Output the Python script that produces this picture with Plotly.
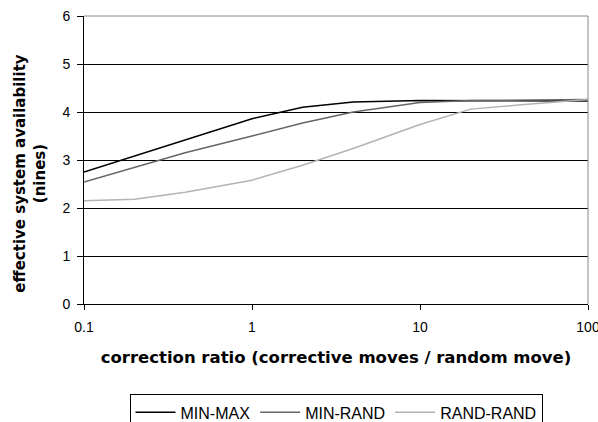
import plotly.graph_objects as go

# correction ratio (corrective moves per random move)
ratio = [0.1, 0.2, 0.4, 1, 2, 4, 10, 20, 40, 100]

# effective system availability, in nines
min_max = [2.75, 3.08, 3.42, 3.86, 4.10, 4.21, 4.24, 4.24, 4.24, 4.23]
min_rand = [2.54, 2.85, 3.15, 3.50, 3.77, 4.00, 4.20, 4.24, 4.25, 4.26]
rand_rand = [2.15, 2.18, 2.33, 2.58, 2.89, 3.24, 3.74, 4.06, 4.15, 4.26]

series = [
    ("MIN-MAX", min_max, "#000000"),
    ("MIN-RAND", min_rand, "#666666"),
    ("RAND-RAND", rand_rand, "#b3b3b3"),
]

x_ticks = [0.1, 1, 10, 100]
x_tick_text = ["0.1", "1", "10", "100"]

fig = go.Figure()
for name, vals, color in series:
    fig.add_trace(go.Scatter(
        x=ratio, y=vals, mode="lines", name=name,
        line=dict(color=color, width=1.5),
    ))

tick_font = dict(family="Arial, Liberation Sans, sans-serif", size=14, color="#000000")
legend_font = dict(family="Arial, Liberation Sans, sans-serif", size=16, color="#000000")

fig.update_layout(
    width=598, height=422,
    margin=dict(l=84, r=10, t=16, b=118, autoexpand=False),
    paper_bgcolor="white", plot_bgcolor="white",
    font=tick_font,
    showlegend=True,
    legend=dict(
        orientation="h", x=0.5, xanchor="center", y=-0.314, yanchor="top",
        bordercolor="#000000", borderwidth=1, bgcolor="white",
        font=legend_font, tracegroupgap=0, itemwidth=40,
    ),
    xaxis=dict(
        type="log", range=[-1, 2],
        tickvals=x_ticks, ticktext=x_tick_text,
        ticks="outside", ticklen=5, tickcolor="#000000",
        ticklabelstandoff=5, ticklabeloverflow="allow",
        showline=True, linecolor="#000000", linewidth=1,
        showgrid=False, zeroline=False, automargin=False,
        tickfont=tick_font,
        title=dict(text="<b>correction ratio (corrective moves / random move)</b>",
                   font=dict(family="DejaVu Sans, sans-serif", size=16.5, color="#000000"),
                   standoff=17),
    ),
    yaxis=dict(
        range=[0, 6], dtick=1, tick0=0,
        ticks="outside", ticklen=6, tickcolor="#000000",
        ticklabelstandoff=4,
        showline=True, linecolor="#000000", linewidth=1,
        showgrid=True, gridcolor="#000000", gridwidth=1,
        zeroline=False, automargin=False,
        tickfont=tick_font,
    ),
    annotations=[
        dict(text="<b>effective system availability<br>(nines)</b>",
             xref="paper", yref="paper", x=0, y=0.4526, xshift=-54,
             xanchor="center", yanchor="middle", textangle=-90,
             showarrow=False, align="center",
             font=dict(family="DejaVu Sans, sans-serif", size=15, color="#000000")),
    ],
    shapes=[
        dict(type="line", xref="paper", yref="paper", x0=0, x1=1, y0=1, y1=1,
             line=dict(color="#888888", width=1), layer="above"),
        dict(type="line", xref="paper", yref="paper", x0=1, x1=1, y0=0, y1=1,
             line=dict(color="#888888", width=1), layer="above"),
    ],
)

fig.write_html("out.html")
